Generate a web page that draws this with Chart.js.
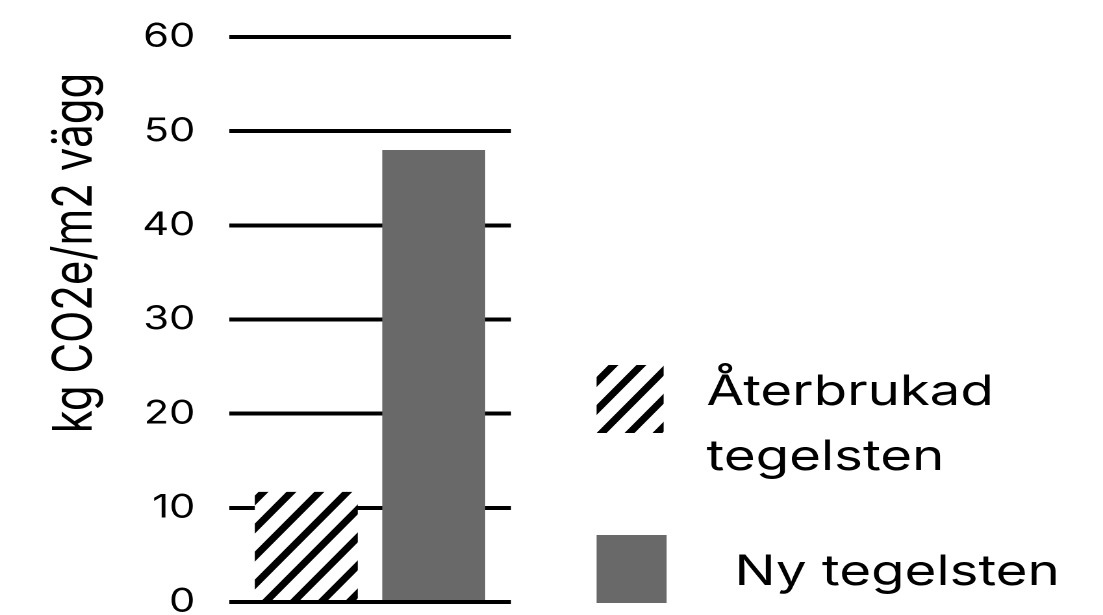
<!DOCTYPE html>
<html>
<head>
<meta charset="utf-8">
<script src="https://cdn.jsdelivr.net/npm/chart.js@4"></script>
<style>
  html, body { margin: 0; padding: 0; background: #fff; overflow: hidden; }
  /* the original picture is stretched sideways, so draw narrow and widen */
  #wrap { width: 849px; height: 615px; transform: scaleX(1.2992); transform-origin: 0 0; }
</style>
</head>
<body>
<div id="wrap"><canvas id="co2-chart" width="849" height="615"></canvas></div>
<script>
// data
var series = ["Återbrukad tegelsten", "Ny tegelsten"];
var values = [11.7, 48];
var yTicks = [0, 10, 20, 30, 40, 50, 60];
var yTitle = "kg CO2e/m2 vägg";

var FONT = "Inter, 'Noto Sans', sans-serif";
var DPR = 2;

// diagonal stripes for the reused brick
function makeHatch() {
    var w = 21.5, h = 28;
    var c = document.createElement('canvas');
    c.width = w * DPR; c.height = h * DPR;
    var g = c.getContext('2d');
    g.scale(DPR, DPR);
    g.fillStyle = '#fff';
    g.fillRect(0, 0, w, h);
    g.strokeStyle = '#000';
    g.lineWidth = 6.1;
    g.beginPath();
    for (var k = -1; k <= 3; k++) {
        g.moveTo((k + 1) * w, -h);
        g.lineTo((k - 2) * w, 2 * h);
    }
    g.stroke();
    var p = g.createPattern(c, 'repeat');
    p.setTransform(new DOMMatrix().scale(1 / DPR));
    return p;
}
var hatch = makeHatch();
var colors = [hatch, '#696969'];

/*************************/
/**   Title + legend    **/
/*************************/
var extras = {
    id: 'extras',
    afterDraw: function (chart) {
        var ctx = chart.ctx;
        var ds = chart.data.datasets;
        ctx.save();
        // y title
        ctx.save();
        ctx.translate(57.7, 253);
        ctx.rotate(-Math.PI / 2);
        ctx.font = '42px ' + FONT;
        ctx.fillStyle = '#000';
        ctx.textAlign = 'center';
        ctx.textBaseline = 'middle';
        ctx.fillText(yTitle, 0, 0);
        ctx.restore();

        ctx.font = '42px ' + FONT;
        ctx.textBaseline = 'alphabetic';
        ctx.textAlign = 'left';
        // reused
        ctx.fillStyle = ds[0].backgroundColor;
        ctx.fillRect(459.2, 365, 51.6, 68);
        ctx.fillStyle = '#000';
        var words = ds[0].label.split(' ');
        ctx.fillText(words[0], 543.8, 405);
        ctx.fillText(words[1], 543.8, 470);
        // new
        ctx.fillStyle = ds[1].backgroundColor;
        ctx.fillRect(459.2, 535, 53.9, 68);
        ctx.fillStyle = '#000';
        ctx.fillText(ds[1].label, 565.4, 585);
        ctx.restore();
    }
};

var ctx = document.getElementById('co2-chart').getContext('2d');
var co2Chart = new Chart(ctx, {
    type: 'bar',
    data: {
        labels: [''],
        datasets: series.map(function (name, i) {
            return {
                label: name,
                data: [values[i]],
                backgroundColor: colors[i],
                borderWidth: 0,
                categoryPercentage: 0.904,
                barPercentage: 0.808
            };
        })
    },
    options: {
        responsive: false,
        animation: false,
        devicePixelRatio: DPR,
        layout: {
            autoPadding: false,
            padding: { left: 0, top: 37, right: 455.7, bottom: 13 }
        },
        plugins: {
            legend: { display: false },
            tooltip: { enabled: false }
        },
        scales: {
            x: {
                display: false
            },
            y: {
                min: 0,
                max: 60,
                afterBuildTicks: function (axis) {
                    axis.ticks = yTicks.map(function (v) { return { value: v }; });
                },
                afterFit: function (axis) {
                    axis.width = 176.3;
                    axis.paddingTop = 0;
                    axis.paddingBottom = 0;
                },
                border: { display: false },
                grid: {
                    color: '#000',
                    lineWidth: 4,
                    drawTicks: false
                },
                ticks: {
                    color: '#000',
                    padding: 26,
                    font: { family: FONT, size: 32 }
                }
            }
        }
    },
    plugins: [extras]
});
</script>
</body>
</html>
